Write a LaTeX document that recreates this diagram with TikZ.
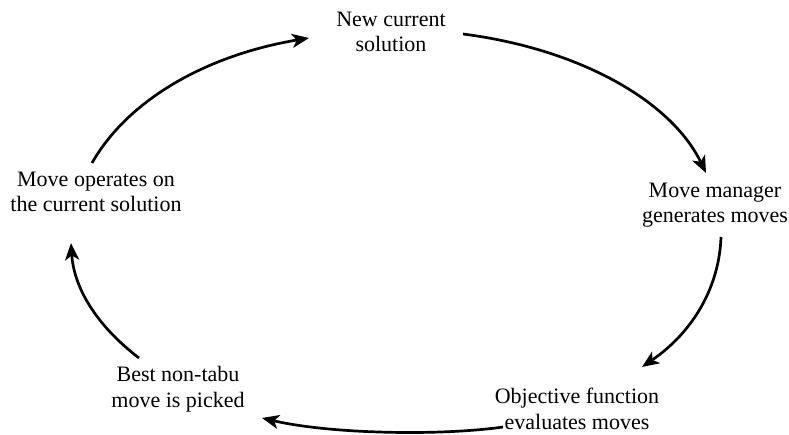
\documentclass[tikz,border=0pt]{standalone}
\usepackage{fontspec}
\setmainfont{Liberation Serif}
\usetikzlibrary{arrows.meta}

\begin{document}
\begin{tikzpicture}[x=1pt,y=-1pt,
  lbl/.style={align=center, inner sep=0pt, font=\fontsize{22}{25.5}\selectfont},
  flow/.style={line width=2.7pt, -{Stealth[length=17pt,width=14pt,inset=4.5pt]}}]
  \path[use as bounding box] (0,0) rectangle (789,435);

  % the five steps of the search cycle
  \node[lbl] (newsol)  at (391,32)  {New current\\solution};
  \node[lbl] (manager) at (715,205) {Move manager\\generates moves};
  \node[lbl] (objfun)  at (577,409) {Objective function\\evaluates moves};
  \node[lbl] (best)    at (178,389) {Best non-tabu\\move is picked};
  \node[lbl] (operate) at (96,192)  {Move operates on\\the current solution};

  % end points of the arcs between the steps
  \coordinate (a1s) at (92,163);  \coordinate (a1e) at (309,38);
  \coordinate (a2s) at (463,34);  \coordinate (a2e) at (706,173);
  \coordinate (a3s) at (721,237); \coordinate (a3e) at (642,367);
  \coordinate (a4s) at (503,427); \coordinate (a4e) at (262,418);
  \coordinate (a5s) at (139,358); \coordinate (a5e) at (71,243);

  % clockwise arcs on a common ellipse
  \draw[flow] (a1s) .. controls (127.8,100.1) and (205.8,55.3) .. (a1e);
  \draw[flow] (a2s) .. controls (580.2,49.1) and (671.4,101.3) .. (a2e);
  \draw[flow] (a3s) .. controls (719.3,285.5) and (694.5,331) .. (a3e);
  \draw[flow] (a4s) .. controls (440,436) and (330,434) .. (a4e);
  \draw[flow] (a5s) .. controls (94.8,324.2) and (73.8,286.4) .. (a5e);
\end{tikzpicture}
\end{document}
